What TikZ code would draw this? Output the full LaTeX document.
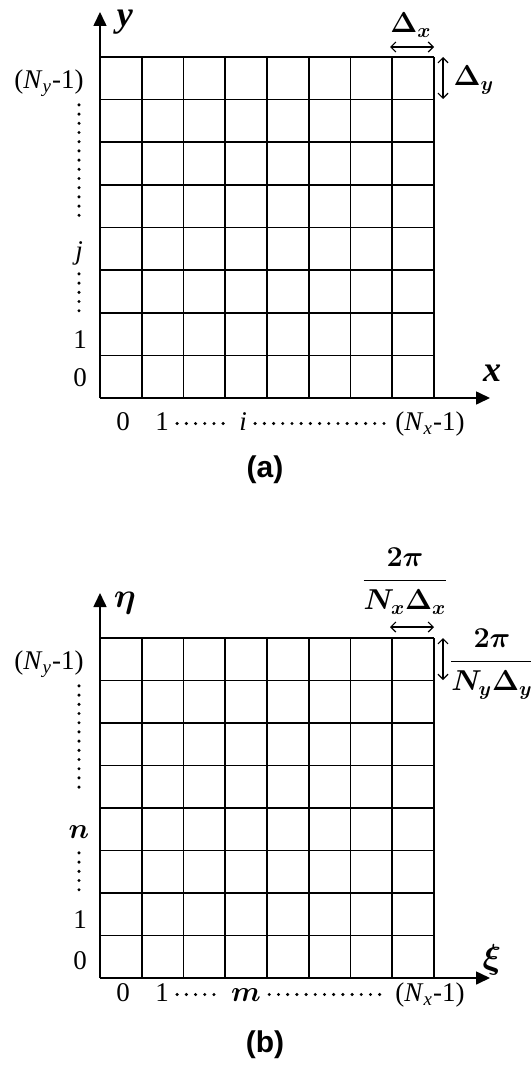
\documentclass[tikz,border=0pt]{standalone}
\usepackage{amsmath,amssymb}
\usepackage{fontspec}
\setmainfont{Liberation Serif}
\setsansfont{Liberation Sans}
\usetikzlibrary{arrows.meta}

\tikzset{
  gridline/.style={line width=0.8pt},
  axis/.style={line width=0.8pt,-{Triangle[length=7pt,width=6.5pt]}},
  dimarrow/.style={line width=0.6pt,{Straight Barb[length=2.5pt,width=5pt]}-{Straight Barb[length=2.5pt,width=5pt]}},
  dotline/.style={line width=1.7pt,line cap=round,dash pattern=on 0pt off 4.6pt},
  lbl/.style={inner sep=0pt,text height=9.5pt,text depth=3pt,font=\fontsize{13.5}{15}\selectfont},
  axlbl/.style={inner sep=0pt,font=\fontsize{18}{18}\selectfont},
  capt/.style={font=\sffamily\bfseries\fontsize{15}{18}\selectfont},
  dimlbl/.style={inner sep=0pt,font=\fontsize{14}{16}\selectfont},
}

\begin{document}
\begin{tikzpicture}[x=0.5pt,y=-0.5pt,>=stealth]
\useasboundingbox (0,0) rectangle (530,1070);

% (a) real space grid
\foreach \k in {1,...,8}
  \draw[gridline] ({100+41.75*\k},57) -- ({100+41.75*\k},398);
\foreach \k in {0,...,7}
  \draw[gridline] (100,{57+42.625*\k}) -- (434,{57+42.625*\k});
\coordinate (oa) at (100,398);
\coordinate (ya) at (100,12);
\coordinate (xa) at (490,398);
\draw[axis] (oa) -- (ya);
\draw[axis] (oa) -- (xa);
\node[axlbl] (ylab) at (125,22) {\textbf{\textit{y}}};
\node[axlbl] (xlab) at (492,373) {\textbf{\textit{x}}};

\node[lbl] (nya) at (49,82) {(\textit{N}\textsubscript{\textit{y}}-1)};
\node[lbl] (ja) at (79,253) {\textit{j}};
\node[lbl] (onea) at (80,342) {1};
\node[lbl] (zeroa) at (80,380) {0};
\draw[dotline,shorten <=5pt,shorten >=12pt] (ja |- nya.south) -- (ja.north);
\draw[dotline,shorten <=4pt,shorten >=5pt] (ja.south) -- (ja |- onea.north);

\node[lbl] (xzeroa) at (123,423.5) {0};
\node[lbl] (xonea) at (162,423.5) {1};
\node[lbl] (ia) at (243,423.5) {\textit{i}};
\node[lbl] (nxa) at (430,423.5) {(\textit{N}\textsubscript{\textit{x}}-1)};
\draw[dotline,shorten <=4pt,shorten >=4pt] (xonea.east) -- (ia.west);
\draw[dotline,shorten <=4pt,shorten >=4pt] (ia.east) -- (nxa.west);

\coordinate (dxla) at (390,47);
\coordinate (dxra) at (434,47);
\draw[dimarrow] (dxla) -- (dxra);
\node[dimlbl] (dxa) at (411,25) {$\boldsymbol{\Delta_x}$};
\coordinate (dyta) at (443,57);
\coordinate (dyba) at (443,99);
\draw[dimarrow] (dyta) -- (dyba);
\node[dimlbl] (dya) at (474,80) {$\boldsymbol{\Delta_y}$};

\node[capt] (capa) at (265,470) {(a)};

% (b) frequency grid
\begin{scope}[shift={(0,581)}]
\foreach \k in {1,...,8}
  \draw[gridline] ({100+41.75*\k},57) -- ({100+41.75*\k},397);
\foreach \k in {0,...,7}
  \draw[gridline] (100,{57+42.5*\k}) -- (434,{57+42.5*\k});
\coordinate (ob) at (100,397);
\coordinate (yb) at (100,12);
\coordinate (xb) at (490,397);
\draw[axis] (ob) -- (yb);
\draw[axis] (ob) -- (xb);
\node[axlbl] (etalab) at (125,22) {$\boldsymbol{\eta}$};
\node[axlbl] (xilab) at (492,379) {$\boldsymbol{\xi}$};

\node[lbl] (nyb) at (49,82) {(\textit{N}\textsubscript{\textit{y}}-1)};
\node[lbl,font=\fontsize{15}{17}\selectfont] (nb) at (79,251) {$\boldsymbol{n}$};
\node[lbl] (oneb) at (80,340.5) {1};
\node[lbl] (zerob) at (80,381.5) {0};
\draw[dotline,shorten <=5pt,shorten >=12pt] (nb |- nyb.south) -- (nb.north);
\draw[dotline,shorten <=4pt,shorten >=5pt] (nb.south) -- (nb |- oneb.north);

\node[lbl] (xzerob) at (123,413.5) {0};
\node[lbl] (xoneb) at (162,413.5) {1};
\node[lbl,font=\fontsize{15}{17}\selectfont] (mb) at (246,413.5) {$\boldsymbol{m}$};
\node[lbl] (nxb) at (430,413.5) {(\textit{N}\textsubscript{\textit{x}}-1)};
\draw[dotline,shorten <=4pt,shorten >=4pt] (xoneb.east) -- (mb.west);
\draw[dotline,shorten <=4pt,shorten >=4pt] (mb.east) -- (nxb.west);

\coordinate (dxlb) at (390,46);
\coordinate (dxrb) at (434,46);
\draw[dimarrow] (dxlb) -- (dxrb);
\node[dimlbl] (dxb) at (405,0) {$\boldsymbol{\dfrac{2\pi}{N_x\Delta_x}}$};
\coordinate (dytb) at (443,57);
\coordinate (dybb) at (443,99);
\draw[dimarrow] (dytb) -- (dybb);
\node[dimlbl] (dyb) at (492,83) {$\boldsymbol{\dfrac{2\pi}{N_y\Delta_y}}$};

\node[capt] (capb) at (265,464) {(b)};
\end{scope}
\end{tikzpicture}
\end{document}
